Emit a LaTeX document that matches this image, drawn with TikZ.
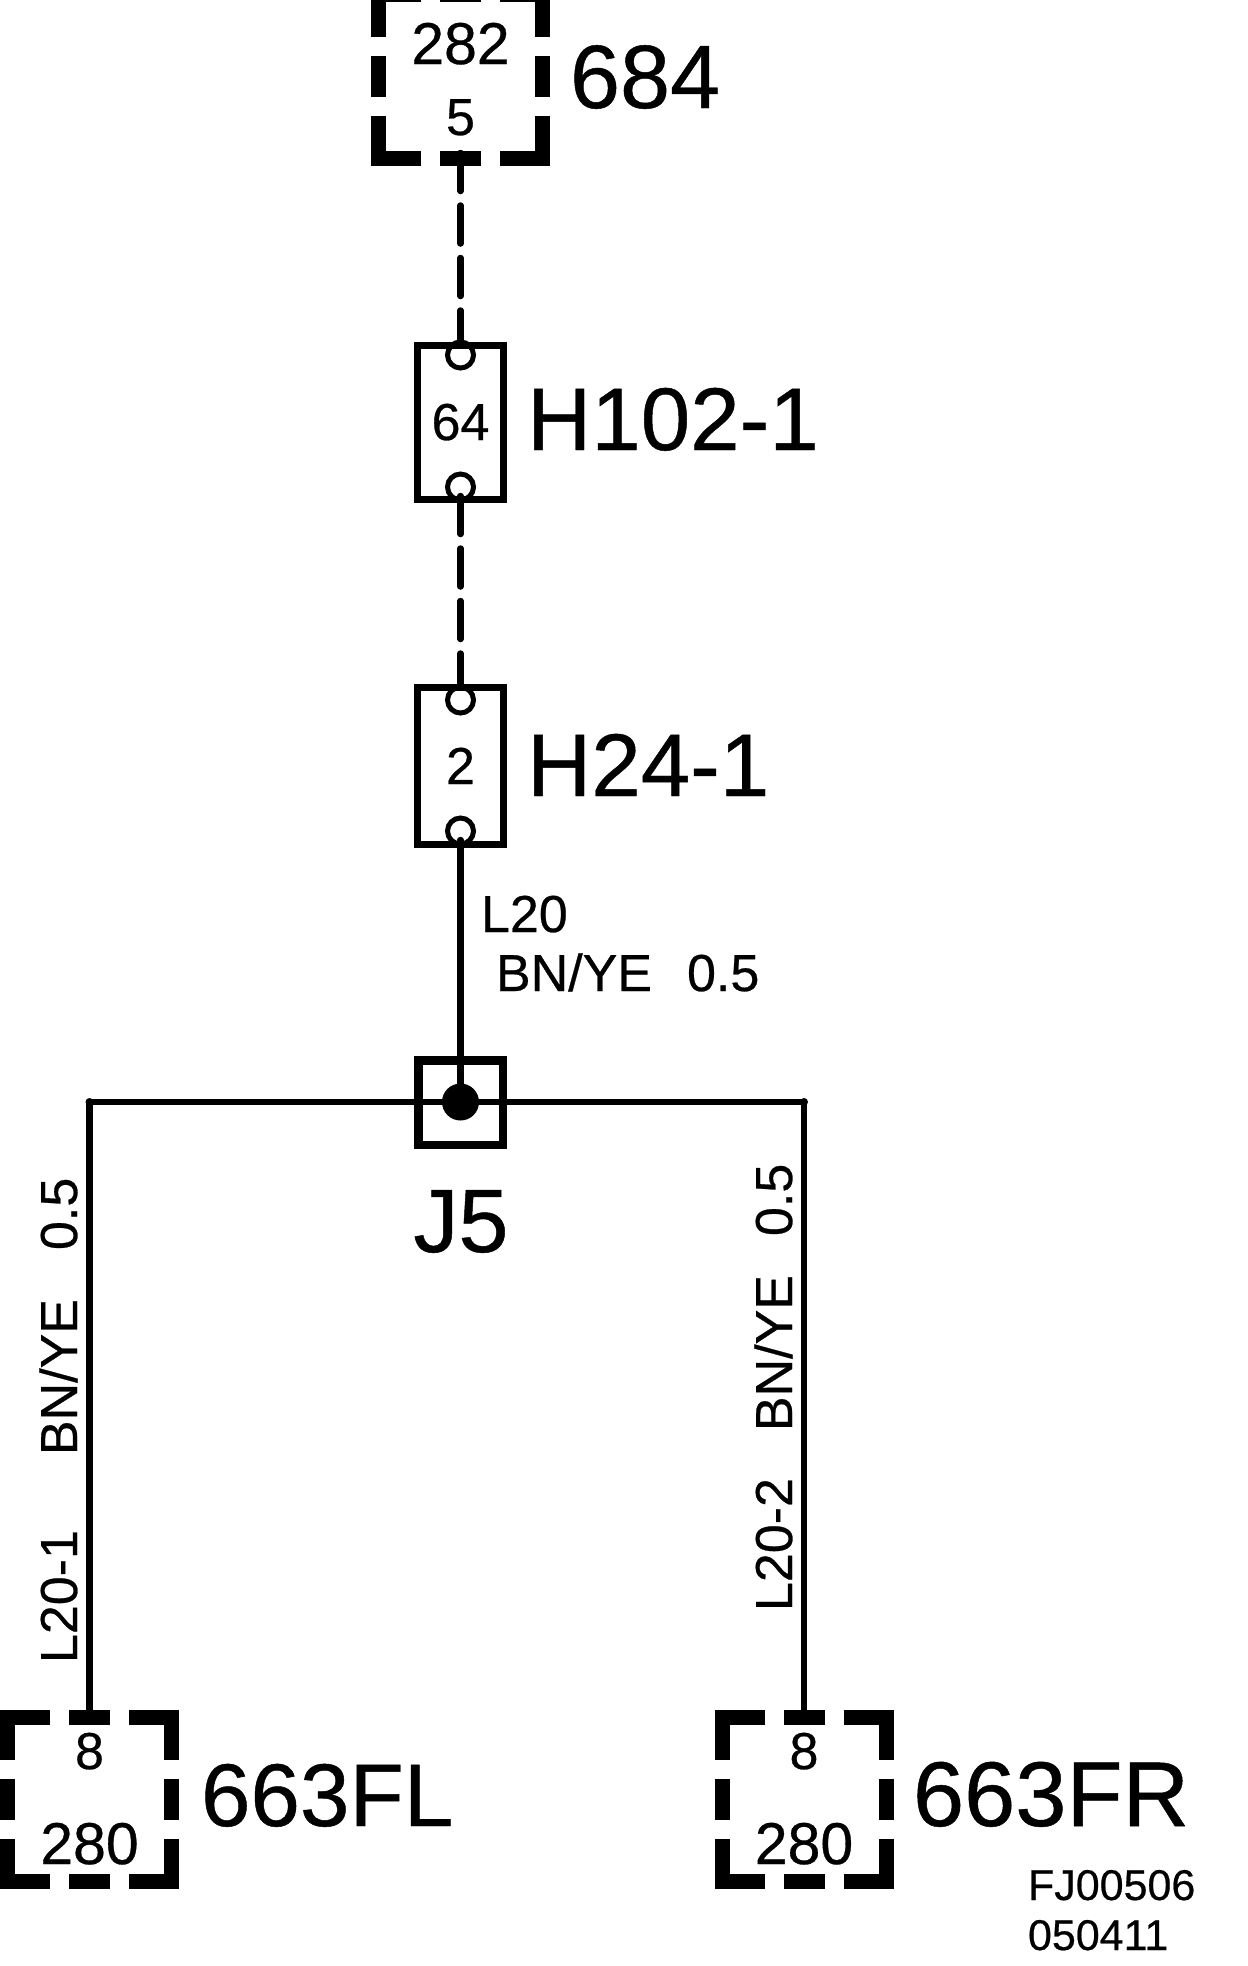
\documentclass[tikz,border=0pt]{standalone}
\usepackage{fontspec}
\setmainfont{Liberation Sans}[FakeBold=0.5]
\tikzset{
  x=1pt,y=-1pt,
  txt/.style={inner sep=0pt,outer sep=0pt,font=\fontsize{#1}{#1}\selectfont,text=black},
  big/.style={txt=89,anchor=base west},
  mid/.style={txt=52,anchor=base west},
  num/.style={txt=52,anchor=base},
  numb/.style={txt=59,anchor=base},
  note/.style={txt=43,anchor=base west},
  boxanchor/.style={minimum size=179pt,inner sep=0pt,outer sep=0pt},
  heavy/.style={line width=15pt,line cap=butt,line join=miter},
  wire/.style={line width=6.5pt,line cap=round,line join=round},
  dashwire/.style={wire,dash pattern=on 38pt off 14.5pt},
  conn/.style={draw,line width=7pt,minimum width=86pt,inner sep=0pt,outer sep=0pt},
  pin/.style={circle,draw,line width=5pt,minimum size=26pt,inner sep=0pt},
  junction/.style={draw,line width=8.5pt,minimum size=84.5pt,inner sep=0pt,outer sep=0pt},
  blob/.style={circle,fill=black,minimum size=37pt,inner sep=0pt},
  nub/.style={circle,fill=black,minimum size=8pt,inner sep=0pt},
}
\newcommand{\dashedbox}[3]{%
  \node[boxanchor] (#1) at (#2,#3) {};
  \begin{scope}[shift={(#1.center)}]
    \draw[heavy] (-82,-39.5) -- (-82,-82) -- (-39.5,-82);
    \draw[heavy] (39.5,-82) -- (82,-82) -- (82,-39.5);
    \draw[heavy] (-82,39.5) -- (-82,82) -- (-39.5,82);
    \draw[heavy] (39.5,82) -- (82,82) -- (82,39.5);
    \draw[heavy] (-20.5,-82) -- (20.5,-82);
    \draw[heavy] (-20.5,82) -- (20.5,82);
    \draw[heavy] (-82,-20.5) -- (-82,20.5);
    \draw[heavy] (82,-20.5) -- (82,20.5);
  \end{scope}}
\begin{document}
\begin{tikzpicture}
\fill[white] (0,0) rectangle (1248,1966);
\useasboundingbox (0,0) rectangle (1248,1966);

% terminal boxes
\dashedbox{b684}{460.5}{76.5}
\dashedbox{bFL}{89.5}{1799.5}
\dashedbox{bFR}{804}{1799.5}

% connectors and junction
\node[conn,minimum height=154pt] (h102) at (460.5,422.5) {};
\node[conn,minimum height=157pt] (h24) at (460.5,766) {};
\node[pin] (h102a) at (460.5,355) {};
\node[pin] (h102b) at (460.5,487) {};
\node[pin] (h24a) at (460.5,700) {};
\node[pin] (h24b) at (460.5,831) {};
\node[junction] (j5) at (460.5,1102.5) {};
\node[blob] (jdot) at (460.5,1102) {};

% free ends and corners
\coordinate (s684) at (460.5,153);
\coordinate (s102) at (460.5,496);
\coordinate (s24) at (460.5,840);
\coordinate (cL) at (89.5,1102);
\coordinate (cR) at (804,1102);
\coordinate (eL) at (89.5,1715);
\coordinate (eR) at (804,1715);
\node[nub] (nL) at (cL) {};
\node[nub] (nR) at (cR) {};

\draw[dashwire] (s684) -- (h102a.north);
\draw[dashwire] (s102) -- (h24a.north);
\draw[wire] (s24) -- (jdot);
\draw[wire] (eL) -- (cL) -- (cR) -- (eR);

% texts
\node[numb] (t282) at (460.5,64) {282};
\node[num] (t5) at (460.5,135) {5};
\node[txt=90,anchor=base west] (t684) at (570,108) {684};
\node[num] (t64) at (460.5,440) {64};
\node[big] (th102) at (527,450) {H102-1};
\node[num] (t2) at (460.5,784) {2};
\node[big] (th24) at (527,796) {H24-1};
\node[mid] (tl20) at (481,932) {L20};
\node[mid] (tbn) at (496,991) {BN/YE\hspace{35pt}0.5};
\node[txt=90,anchor=base] (tj5) at (461,1252) {J5};
\node[mid,rotate=90] (tl1) at (77,1663) {L20-1\hspace{75pt}BN/YE\hspace{49pt}0.5};
\node[mid,rotate=90] (tl2) at (792,1611) {L20-2\hspace{47pt}BN/YE\hspace{39pt}0.5};
\node[num] (t8l) at (89.5,1769) {8};
\node[numb] (t280l) at (89.5,1864) {280};
\node[big] (tfl) at (201,1826) {663FL};
\node[num] (t8r) at (804,1769) {8};
\node[numb] (t280r) at (804,1864) {280};
\node[txt=92,anchor=base west] (tfr) at (913,1826) {663FR};
\node[note] (tfj) at (1028,1900) {FJ00506};
\node[note] (tdate) at (1028,1950) {050411};
\end{tikzpicture}
\end{document}
